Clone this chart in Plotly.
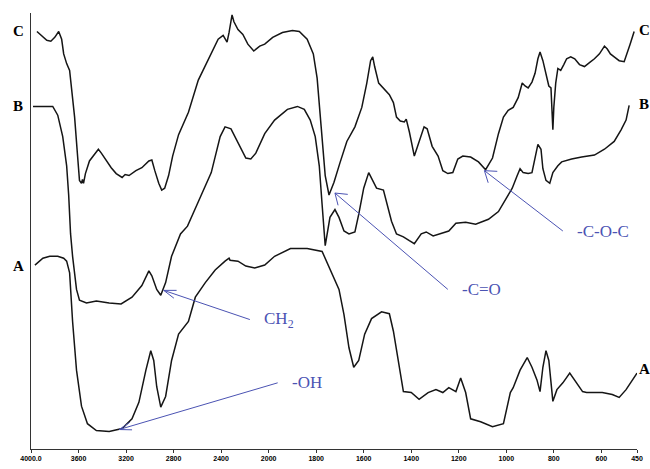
import numpy as np
import plotly.graph_objects as go

# ---------------- data (wavenumber in cm-1, transmittance in arbitrary units) ----------------
c_wn = [3950, 3908, 3867, 3833, 3800, 3767, 3742, 3725, 3700, 3675, 3658, 3633, 3608, 3592, 3575, 3567,
        3558, 3542, 3508, 3475, 3433, 3408, 3367, 3325, 3283, 3233, 3208, 3175, 3117, 3067, 3008, 2983,
        2958, 2925, 2900, 2875, 2842, 2808, 2758, 2675, 2592, 2508, 2425, 2383, 2367, 2350, 2333, 2317,
        2308, 2292, 2258, 2217, 2175, 2125, 2075, 2033, 1983, 1942, 1900, 1871, 1838, 1812, 1796, 1779,
        1762, 1746, 1725, 1700, 1671, 1637, 1608, 1587, 1571, 1562, 1554, 1537, 1512, 1492, 1475, 1462,
        1446, 1429, 1421, 1408, 1387, 1367, 1346, 1333, 1312, 1287, 1267, 1246, 1225, 1204, 1183, 1150,
        1117, 1087, 1058, 1033, 1012, 992, 971, 950, 933, 921, 908, 892, 879, 867, 858, 846, 833, 821,
        812, 808, 804, 800, 792, 783, 771, 758, 746, 729, 712, 692, 671, 650, 629, 608, 587, 575, 562,
        546, 525, 504, 492, 479, 462]
c_t = [429, 424, 420, 419, 423, 429, 421, 406, 396, 389, 371, 341, 301, 276, 273, 277,
       273, 283, 296, 301, 308, 304, 296, 289, 283, 279, 282, 281, 286, 289, 296, 297,
       286, 273, 266, 268, 281, 301, 323, 346, 379, 401, 421, 425, 421, 418, 428, 441,
       446, 439, 431, 426, 416, 409, 414, 416, 423, 428, 430, 429, 421, 406, 381, 331,
       281, 261, 274, 294, 316, 331, 351, 376, 399, 403, 393, 376, 369, 364, 356, 341,
       337, 336, 339, 326, 301, 316, 331, 329, 311, 301, 286, 283, 284, 298, 301, 300,
       295, 287, 299, 324, 341, 348, 351, 361, 376, 373, 371, 377, 386, 401, 408, 399, 384, 373,
       371, 351, 328, 351, 376, 391, 389, 395, 401, 403, 401, 395, 393, 397, 401, 406, 414, 411, 406,
       403, 399, 398, 406, 416, 429]

b_wn = [3983, 3883, 3817, 3775, 3733, 3700, 3683, 3667, 3650, 3617, 3592, 3533, 3450, 3342, 3242, 3150,
        3067, 3008, 2983, 2942, 2908, 2867, 2817, 2742, 2683, 2592, 2483, 2408, 2367, 2317, 2258, 2192,
        2150, 2108, 2033, 1975, 1921, 1879, 1850, 1825, 1804, 1787, 1775, 1762, 1742, 1721, 1704, 1683,
        1662, 1637, 1621, 1600, 1579, 1567, 1546, 1517, 1504, 1483, 1462, 1433, 1408, 1387, 1358, 1337,
        1308, 1283, 1242, 1212, 1171, 1129, 1075, 1033, 1004, 975, 954, 942, 929, 908, 892, 879, 867,
        854, 846, 833, 817, 804, 783, 767, 725, 683, 629, 587, 546, 517, 496, 483]
b_t = [352, 352, 352, 343, 321, 291, 261, 221, 198, 164, 153, 150, 152, 150, 149, 156,
       168, 183, 178, 164, 158, 171, 198, 221, 229, 254, 284, 321, 331, 329, 314, 299,
       298, 304, 324, 338, 349, 352, 349, 338, 321, 291, 251, 209, 238, 246, 238, 224,
       221, 223, 241, 268, 284, 278, 268, 266, 254, 234, 221, 218, 214, 211, 221, 223,
       219, 221, 224, 232, 233, 231, 236, 244, 256, 268, 281, 288, 284, 283, 284, 298, 313,
       308, 288, 276, 273, 284, 291, 295, 298, 300, 302, 308, 316, 328, 338, 353]

a_wn = [3967, 3900, 3842, 3775, 3725, 3700, 3675, 3650, 3617, 3575, 3525, 3450, 3342, 3233, 3150, 3092,
        3033, 2992, 2967, 2942, 2908, 2867, 2817, 2758, 2675, 2617, 2533, 2450, 2367, 2333, 2325, 2258,
        2192, 2117, 2033, 1975, 1908, 1838, 1775, 1733, 1704, 1683, 1662, 1642, 1621, 1596, 1567, 1525,
        1492, 1475, 1454, 1433, 1400, 1367, 1329, 1296, 1267, 1242, 1212, 1192, 1171, 1150, 1108, 1058,
        1012, 983, 971, 942, 912, 892, 871, 858, 846, 833, 821, 804, 787, 762, 733, 704, 679, 662, 596,
        554, 525, 496, 450]
a_t = [189, 196, 198, 198, 196, 193, 181, 131, 81, 44, 26, 19, 18, 21, 31, 48,
       81, 101, 91, 64, 43, 54, 91, 118, 131, 156, 171, 184, 193, 196, 194, 193,
       188, 186, 189, 198, 206, 206, 203, 181, 164, 138, 104, 84, 91, 118, 134, 141,
       139, 121, 91, 59, 58, 51, 58, 61, 58, 63, 59, 73, 58, 31, 28, 23,
       26, 58, 63, 81, 94, 84, 71, 59, 84, 101, 91, 49, 61, 68, 78, 68, 59, 58, 58,
       56, 53, 61, 78]

tick_wn = [4000, 3600, 3200, 2800, 2400, 2000, 1800, 1600, 1400, 1200, 1000, 800, 600, 450]
tick_text = ["4000.0", "3600", "3200", "2800", "2400", "2000", "1800", "1600", "1400",
             "1200", "1000", "800", "600", "450"]

# annotations: label, arrow tip (wn, T), arrow tail (wn, T)
notes = [
    ("-OH", (3258, 20), (1962, 68)),
    ("CH<sub>2</sub>", (2883, 163), (2158, 133)),
    ("-C=O", (1721, 263), (1246, 164)),
    ("-C-O-C", (1092, 286), (762, 224)),
]


# ---------------- split wavenumber scale (scale change at 2000 cm-1) ----------------
def wn_pos(w):
    w = np.asarray(w, dtype=float)
    return np.where(w >= 2000, (4000 - w) / 400.0, 5 + (2000 - w) / 200.0)


W, H = 650, 469
ML, MR, MT, MB = 31, 7, 13, 8
XR = (0.0, float(wn_pos(450)))
YR = (0.0, 448.0)
pw, ph = W - ML - MR, H - MT - MB


def to_px(pos, t):
    return ML + (pos - XR[0]) / (XR[1] - XR[0]) * pw, MT + (YR[1] - t) / (YR[1] - YR[0]) * ph


def from_px(x, y):
    return XR[0] + (x - ML) / pw * (XR[1] - XR[0]), YR[1] - (y - MT) / ph * (YR[1] - YR[0])


fig = go.Figure()
for wn, t in [(c_wn, c_t), (b_wn, b_t), (a_wn, a_t)]:
    fig.add_trace(go.Scatter(x=wn_pos(wn), y=t, mode="lines",
                             line=dict(color="#151515", width=1.5), hoverinfo="skip",
                             showlegend=False, cliponaxis=False))

BLUE = "#4b53b3"
shapes = []
annos = []
for label, tip, tail in notes:
    tx, ty = to_px(float(wn_pos(tip[0])), tip[1])
    sx, sy = to_px(float(wn_pos(tail[0])), tail[1])
    x0, y0 = from_px(tx, ty)
    x1, y1 = from_px(sx, sy)
    shapes.append(dict(type="line", xref="x", yref="y", x0=x0, y0=y0, x1=x1, y1=y1,
                       line=dict(color=BLUE, width=1)))
    ang = np.arctan2(sy - ty, sx - tx)
    half = max(abs(ang), np.radians(18))
    half = min(half, np.radians(35))
    for s in (-1, 1):
        a2 = ang + s * half
        hx, hy = tx + 13 * np.cos(a2), ty + 13 * np.sin(a2)
        u0, v0 = from_px(hx, hy)
        shapes.append(dict(type="line", xref="x", yref="y", x0=x0, y0=y0, x1=u0, y1=v0,
                           line=dict(color=BLUE, width=1)))
    lx, ly = from_px(sx + 12, sy)
    annos.append(dict(x=lx, y=ly, xref="x", yref="y", text=label, showarrow=False,
                      xanchor="left", yanchor="middle",
                      font=dict(family="Liberation Serif", size=17, color=BLUE)))

# curve labels
for txt, ypix in [("C", 32), ("B", 109), ("A", 273)]:
    annos.append(dict(x=(18 - ML) / pw, y=(H - MB - ypix) / ph, xref="paper", yref="paper",
                      text=txt, showarrow=False, xanchor="center", yanchor="middle",
                      font=dict(family="Liberation Serif", size=15, color="black", weight="bold")))
for txt, ypix in [("C", 30), ("B", 107), ("A", 379)]:
    annos.append(dict(x=(643 - ML) / pw, y=(H - MB - ypix) / ph, xref="paper", yref="paper",
                      text=txt, showarrow=False, xanchor="left", yanchor="middle",
                      font=dict(family="Liberation Serif", size=15, color="black", weight="bold")))

fig.update_layout(
    width=W, height=H,
    margin=dict(l=ML, r=MR, t=MT, b=MB, pad=0),
    paper_bgcolor="white", plot_bgcolor="white",
    xaxis=dict(range=list(XR), showline=True, linecolor="#333", linewidth=1,
               ticks="outside", ticklen=3, tickcolor="#333",
               tickvals=wn_pos(tick_wn), ticktext=tick_text,
               tickfont=dict(family="Arial, Liberation Sans", size=7, color="black", weight="bold"),
               showgrid=False, zeroline=False),
    yaxis=dict(range=list(YR), showline=True, linecolor="#333", linewidth=1,
               showticklabels=False, ticks="", showgrid=False, zeroline=False),
    shapes=shapes,
    annotations=annos,
)

fig.write_html("out.html")
